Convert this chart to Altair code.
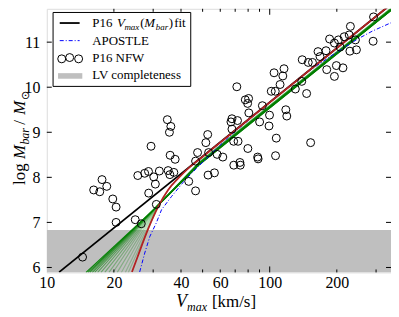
import altair as alt
import pandas as pd

FONT = "Liberation Serif"

# ---------------- data ----------------
nfw_vmax = [14.47, 16.23, 17.28, 17.69, 18.58, 19.77, 20.46, 20.46, 24.93, 26.53,
            25.6, 27.49, 28.59, 30.18, 30.69, 28.65, 31.99, 35.02, 35.64, 37.15,
            31.0, 43.32, 46.49, 29.35, 34.73, 36.02, 35.49, 35.75, 37.65, 47.46,
            46.49,
            71.2, 77.7, 80.4, 79.6, 80.6, 92.7, 99.8, 104.6, 114.5, 115.9,
            111.3, 101.6, 105.9, 118.1, 119.3, 90.1, 99.3, 107.0, 106.2, 67.7,
            67.0, 71.7, 67.7, 68.9, 72.1, 79.8, 88.3, 88.7, 73.5, 73.8,
            69.0, 52.7, 51.7, 53.2, 58.1, 61.6, 52.9, 56.5, 152.6,
            292.2, 230.1, 185.6, 195.1, 203.3, 215.8, 227.3, 242.4, 244.9, 228.9,
            206.9, 291.0, 164.7, 178.9, 168.1, 155.5, 148.9, 139.9, 180.2, 199.1,
            213.1, 195.1, 139.2, 130.3, 146.4]
nfw_logm = [6.23, 7.72, 7.68, 7.95, 7.80, 7.52, 7.34, 7.00, 7.06, 6.97,
            8.04, 8.09, 8.13, 8.01, 7.85, 7.65, 8.14, 8.15, 8.06, 8.11,
            7.40, 7.91, 7.70, 8.69, 9.28, 9.13, 9.00, 8.49, 8.40, 8.55,
            8.36,
            10.01, 9.72, 9.75, 9.64, 9.43, 9.59, 9.38, 10.32, 10.25, 10.41,
            10.06, 9.91, 9.91, 9.50, 9.36, 9.23, 9.14, 8.87, 8.48, 9.30,
            9.23, 9.26, 9.07, 8.80, 8.80, 8.64, 8.45, 8.41, 8.33, 8.27,
            8.27, 8.95, 8.77, 8.55, 8.51, 8.45, 8.05, 8.10, 8.77,
            11.56, 11.35, 11.07, 10.98, 11.05, 11.12, 11.16, 11.05, 10.83, 10.80,
            10.89, 11.02, 10.79, 10.81, 10.68, 10.55, 10.55, 10.61, 10.39, 10.48,
            10.43, 10.24, 10.13, 9.96, 9.86]

fit_vmax = [11.36, 350.0]
fit_logm = [5.896, 11.84]

apostle_vmax = [26.1, 27.5, 29.0, 31.0, 32.7, 36.2, 41.7, 47.8, 65.0, 100.0, 145.0, 192.0, 250.0, 290.0, 350.0]
apostle_logm = [5.90, 6.32, 6.69, 6.99, 7.28, 7.57, 7.94, 8.24, 8.88, 9.67, 10.31, 10.72, 11.08, 11.25, 11.43]

red_vmax = [24.1, 25.6, 28.4, 31.6, 35.0, 38.9, 43.1, 47.8, 350.0]
red_logm = [5.90, 6.25, 6.84, 7.35, 7.72, 7.98, 8.20, 8.38, 11.84]

# green fan of model lines: bottom start, apex, then common upper band
fan_v_bottom = [15.0, 15.3, 15.6, 16.0, 16.4, 16.9, 17.5, 18.2, 19.0, 19.8, 20.7, 21.6, 22.5, 23.2]
fan_v_apex = [30.6, 30.7, 30.8, 30.9, 31.0, 31.1, 31.2, 31.3, 31.4, 31.5, 31.6, 31.7, 31.8, 31.9]
fan_y_apex = [7.31, 7.32, 7.33, 7.34, 7.34, 7.35, 7.36, 7.36, 7.37, 7.38, 7.38, 7.39, 7.40, 7.40]
fan_y_mid = [8.27, 8.28, 8.28, 8.29, 8.29, 8.30, 8.30, 8.30, 8.31, 8.31, 8.32, 8.32, 8.33, 8.33]
fan_y_top = [11.70, 11.71, 11.71, 11.72, 11.72, 11.72, 11.73, 11.73, 11.73, 11.74, 11.74, 11.75, 11.75, 11.76]
fan_alpha = [0.95, 0.85, 0.8, 0.7, 0.6, 0.5, 0.45, 0.4, 0.35, 0.3, 0.3, 0.25, 0.25, 0.25]
fan_v_mid = 48.0
fan_v_top = 350.0
y_bottom = 5.89

lv_limit = 6.83

x_ticks = [10, 20, 40, 60, 100, 200]
x_minor = [20, 30, 40, 50, 60, 70, 80, 90, 200, 300]
x_major = [100]
y_ticks = [6, 7, 8, 9, 10, 11]

W, H = 346, 265
XDOM = [10, 350]
YDOM = [5.89, 11.74]

xs = alt.Scale(type="log", domain=XDOM, nice=False)
ys = alt.Scale(domain=YDOM, nice=False, zero=False)

xaxis = alt.Axis(values=x_ticks, format="d", ticks=False, domain=False, grid=False, title=None,
                 labelFont=FONT, labelFontSize=16, labelColor="black", labelPadding=2,
                 labelFlush=False, labelOverlap=False)
yaxis = alt.Axis(values=y_ticks, format="d", ticks=False, domain=False, grid=False, title=None,
                 labelFont=FONT, labelFontSize=16, labelColor="black", labelPadding=7,
                 labelFlush=False, labelOverlap=False)

# gray completeness band
band_df = pd.DataFrame({"y1": [y_bottom], "y2": [lv_limit]})
band = alt.Chart(band_df).mark_rect(color="#bfbfbf", clip=True).encode(
    x=alt.value(0), x2=alt.value(W),
    y=alt.Y("y1:Q", scale=ys, axis=yaxis), y2="y2:Q")

fit_df = pd.DataFrame({"v": fit_vmax, "m": fit_logm})
fit = alt.Chart(fit_df).mark_line(color="black", strokeWidth=1.8, clip=True).encode(
    x=alt.X("v:Q", scale=xs, axis=xaxis), y=alt.Y("m:Q", scale=ys))

rows = []
for i in range(len(fan_v_bottom)):
    pts = [(fan_v_bottom[i], y_bottom), (fan_v_apex[i], fan_y_apex[i]),
           (fan_v_mid, fan_y_mid[i]), (fan_v_top, fan_y_top[i])]
    for k, (v, m) in enumerate(pts):
        rows.append({"id": i, "o": k, "v": v, "m": m, "a": fan_alpha[i]})
fan_df = pd.DataFrame(rows)
fan = alt.Chart(fan_df).mark_line(color="#008000", strokeWidth=1.2, clip=True).encode(
    x=alt.X("v:Q", scale=xs), y=alt.Y("m:Q", scale=ys), detail="id:N", order="o:Q",
    opacity=alt.Opacity("a:Q", scale=None))

apo_df = pd.DataFrame({"v": apostle_vmax, "m": apostle_logm})
apo = alt.Chart(apo_df).mark_line(color="blue", strokeWidth=1, strokeDash=[4, 2, 1, 2], clip=True).encode(
    x=alt.X("v:Q", scale=xs), y=alt.Y("m:Q", scale=ys))

red_df = pd.DataFrame({"v": red_vmax, "m": red_logm})
red = alt.Chart(red_df).mark_line(color="#b22222", strokeWidth=1.8, clip=True, interpolate="monotone").encode(
    x=alt.X("v:Q", scale=xs), y=alt.Y("m:Q", scale=ys))

pts_df = pd.DataFrame({"v": nfw_vmax, "m": nfw_logm})
pts = alt.Chart(pts_df).mark_point(shape="circle", filled=False, size=64, color="black",
                                   strokeWidth=1, opacity=1, clip=True).encode(
    x=alt.X("v:Q", scale=xs), y=alt.Y("m:Q", scale=ys))

# inward ticks on all four sides
xt = pd.DataFrame({"v": x_minor})
xtM = pd.DataFrame({"v": x_major})
yt = pd.DataFrame({"m": y_ticks})
tk = dict(color="black", strokeWidth=1)
ticks = [
    alt.Chart(xt).mark_rule(**tk).encode(x=alt.X("v:Q", scale=xs), y=alt.value(H), y2=alt.value(H - 3)),
    alt.Chart(xt).mark_rule(**tk).encode(x=alt.X("v:Q", scale=xs), y=alt.value(0), y2=alt.value(3)),
    alt.Chart(xtM).mark_rule(**tk).encode(x=alt.X("v:Q", scale=xs), y=alt.value(H), y2=alt.value(H - 6)),
    alt.Chart(xtM).mark_rule(**tk).encode(x=alt.X("v:Q", scale=xs), y=alt.value(0), y2=alt.value(6)),
    alt.Chart(yt).mark_rule(**tk).encode(y=alt.Y("m:Q", scale=ys), x=alt.value(0), x2=alt.value(5)),
    alt.Chart(yt).mark_rule(**tk).encode(y=alt.Y("m:Q", scale=ys), x=alt.value(W), x2=alt.value(W - 5)),
]


def txt(s, x, y, size=13, style="normal", angle=None, align="left"):
    kw = dict(font=FONT, fontSize=size, fontStyle=style, align=align, baseline="alphabetic", color="black")
    if angle is not None:
        kw["angle"] = angle
    return alt.Chart(pd.DataFrame({"t": [s]})).mark_text(**kw).encode(
        text="t:N", x=alt.value(x), y=alt.value(y))


# legend (pixel layout)
legend_box = alt.Chart(pd.DataFrame({"a": [0]})).mark_rect(fill="white", stroke="black", strokeWidth=1).encode(
    x=alt.value(6.3), x2=alt.value(144.7), y=alt.value(3.7), y2=alt.value(78))
leg_fit = alt.Chart(pd.DataFrame({"a": [0]})).mark_rule(color="black", strokeWidth=1.8).encode(
    x=alt.value(13), x2=alt.value(33), y=alt.value(14.3))
leg_apo = alt.Chart(pd.DataFrame({"a": [0]})).mark_rule(color="blue", strokeWidth=1, strokeDash=[4, 2, 1, 2]).encode(
    x=alt.value(13), x2=alt.value(33), y=alt.value(32))
leg_pts = alt.Chart(pd.DataFrame({"px": [15, 23, 32], "py": [50.3, 49.0, 50.3]})).mark_point(
    shape="circle", filled=False, size=64, color="black", strokeWidth=1, opacity=1).encode(
    x=alt.X("px:Q", scale=None), y=alt.Y("py:Q", scale=None))
leg_band = alt.Chart(pd.DataFrame({"a": [0]})).mark_rect(color="#bfbfbf").encode(
    x=alt.value(11.3), x2=alt.value(35.7), y=alt.value(64.7), y2=alt.value(70.3))

texts = [
    txt("P16", 45.7, 18.3),
    txt("V", 70.5, 18.3, style="italic"),
    txt("max", 78.0, 21.0, size=9, style="italic"),
    txt("(", 94.0, 18.3),
    txt("M", 98.0, 18.3, style="italic"),
    txt("bar", 109.5, 21.0, size=9, style="italic"),
    txt(")", 122.5, 18.3),
    txt("fit", 128.0, 18.3),
    txt("APOSTLE", 45.7, 36.0),
    txt("P16 NFW", 45.7, 53.7),
    txt("LV completeness", 45.7, 71.0),
    # x title
    txt("V", 130.0, 300, size=18, style="italic"),
    txt("max", 141.0, 303.5, size=12, style="italic"),
    txt("[km/s]", 166.0, 300, size=17),
    # y title (rotated)
    txt("log ", -22, 177, size=17, angle=270),
    txt("M", -22, 151.0, size=17, style="italic", angle=270),
    txt("bar", -18, 136.5, size=12, style="italic", angle=270),
    txt("/", -22, 116.5, size=17, angle=270),
    txt("M", -22, 106.5, size=17, style="italic", angle=270),
    txt("\u2299", -18, 92.0, size=11.5, angle=270),
]

chart = alt.layer(band, fit, fan, apo, red, pts, *ticks, legend_box, leg_fit, leg_apo, leg_pts, leg_band, *texts).properties(
    width=W, height=H,
    autosize=alt.AutoSizeParams(type="none"),
    padding={"left": 39, "top": 0, "right": 0, "bottom": 44},
).configure_view(stroke="black", strokeWidth=1).configure(background="white")

chart.save("out.html", embed_options={"renderer": "svg", "actions": False})
